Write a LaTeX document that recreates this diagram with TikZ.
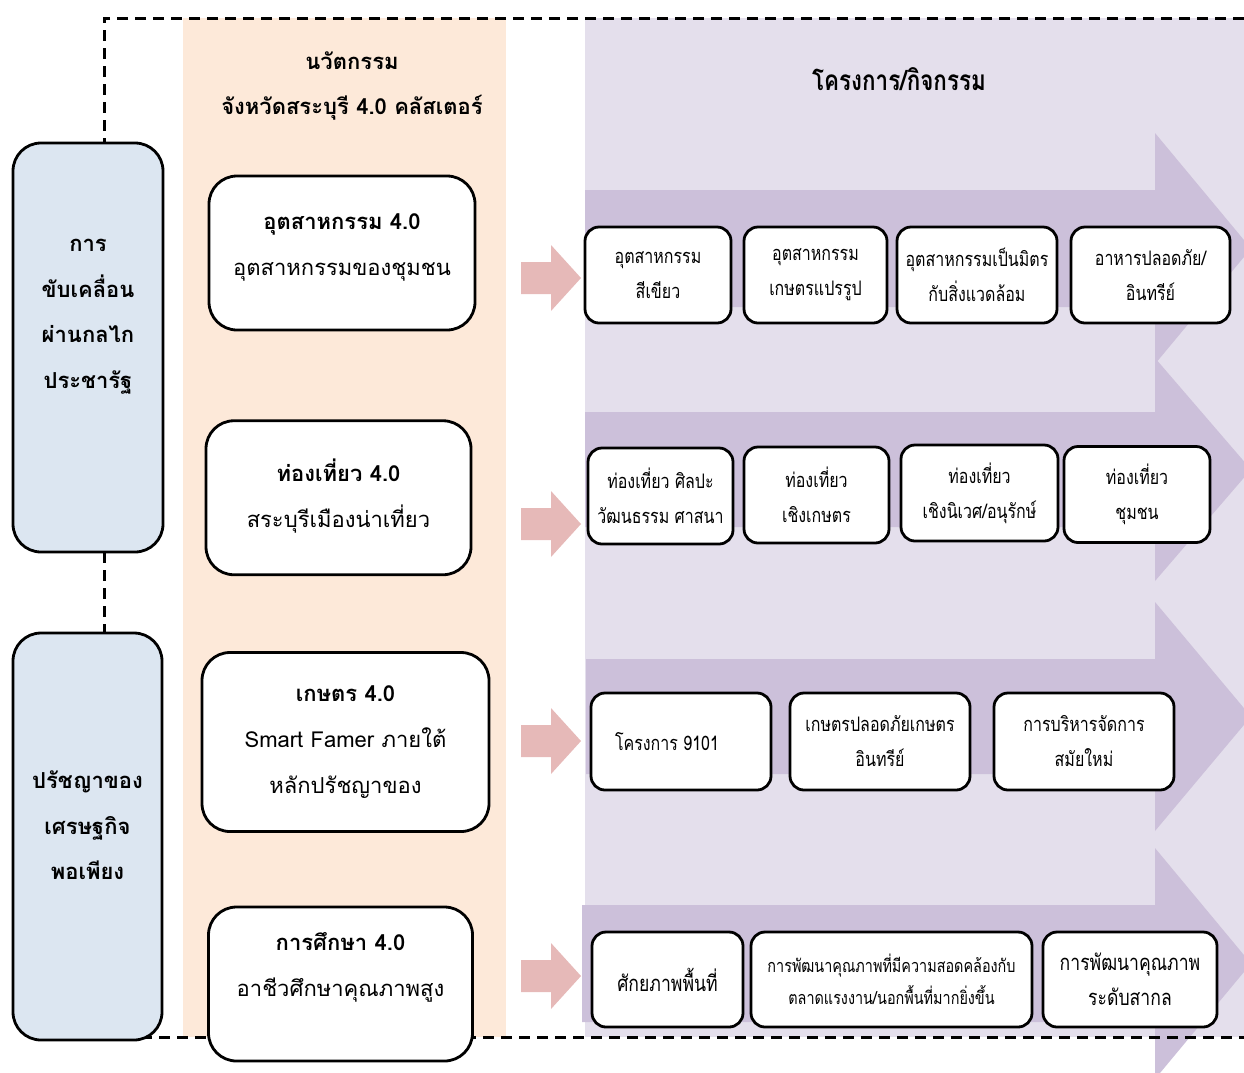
\documentclass[tikz,border=0pt]{standalone}
\usepackage{fontspec}
\setmainfont[Script=Thai]{Loma}
\newfontfamily\thaic[Script=Thai,FakeStretch=0.8]{Loma}
\definecolor{peach}{HTML}{FDE9D9}
\definecolor{bluebg}{HTML}{DCE6F1}
\definecolor{lav}{HTML}{E4DFEC}
\definecolor{arrowpur}{HTML}{CCC0DA}
\definecolor{pinkarr}{HTML}{E6B9B8}
\newcommand\bigarrow[4]{% x0, body top, body bottom, half head
  \fill[arrowpur] (#1,#2) -- (1155,#2) -- (1155,{(#2+#3)/2-#4}) -- (1251,{(#2+#3)/2}) -- (1155,{(#2+#3)/2+#4}) -- (1155,#3) -- (#1,#3) -- cycle;}
\newcommand\pinkarrow[1]{%
  \fill[pinkarr] (521,#1-16) -- (551,#1-16) -- (551,#1-33) -- (581,#1) -- (551,#1+33) -- (551,#1+16) -- (521,#1+16) -- cycle;}
\begin{document}
\begin{tikzpicture}[x=1pt,y=-1pt,
  bigbox/.style={draw, line width=2.8pt, rounded corners=28pt, fill=white, inner sep=0pt},
  bigtext/.style={align=center, inner sep=0pt, font=\fontsize{22}{46}\selectfont},
  smallbox/.style={draw, line width=2.8pt, rounded corners=14pt, fill=white, align=center, inner sep=0pt, font=\thaic\fontsize{20}{35}\selectfont},
  bluebox/.style={draw, line width=2.8pt, rounded corners=28pt, fill=bluebg, inner sep=0pt},
  bluetext/.style={align=center, inner sep=0pt, font=\bfseries\fontsize{22}{45.5}\selectfont},
  headtext/.style={align=center, inner sep=0pt, font=\bfseries\fontsize{22}{45}\selectfont},
  dashedline/.style={dash pattern=on 11pt off 7pt, line width=3pt},
]
\useasboundingbox (0,0) rectangle (1244,1072);
% backgrounds
\fill[lav] (585,18) rectangle (1244,1037);
\begin{scope}
  \clip (0,0) rectangle (1244,1072);
  \bigarrow{585}{190}{307}{115.5}
  \bigarrow{585}{412}{527}{111.5}
  \bigarrow{586}{659}{774}{114.5}
  \bigarrow{582}{905}{1022}{115.5}
\end{scope}
\fill[peach] (183,18) rectangle (506,1037);
\draw[dashedline] (1244,18) -- (104,18) -- (104,1037) -- (1244,1037);
% pink arrows
\pinkarrow{278}
\pinkarrow{524}
\pinkarrow{741}
\pinkarrow{976}
% headers
\node[headtext] (hinno) at (352,86) {นวัตกรรม\\จังหวัดสระบุรี 4.0 คลัสเตอร์};
\node[inner sep=0pt, font=\thaic\bfseries\fontsize{28}{34}\selectfont] (hproj) at (899,79) {โครงการ/กิจกรรม};
% blue boxes
\node[bluebox, minimum width=150pt, minimum height=409pt] (blue1) at (88,347.5) {};
\node[bluetext] (blue1t) at ([yshift=31pt]blue1.center) {การ\\ขับเคลื่อน\\ผ่านกลไก\\ประชารัฐ};
\node[bluebox, minimum width=149pt, minimum height=407pt] (blue2) at (87.5,836.5) {};
\node[bluetext] (blue2t) at ([yshift=11pt]blue2.center) {ปรัชญาของ\\เศรษฐกิจ\\พอเพียง};
% big boxes
\node[bigbox, minimum width=266pt, minimum height=154pt] (ind) at (342,253) {};
\node[bigtext] (indt) at ([yshift=6pt]ind.center) {\textbf{อุตสาหกรรม 4.0}\\อุตสาหกรรมของชุมชน};
\node[bigbox, minimum width=265pt, minimum height=154pt] (tour) at (338.5,497.75) {};
\node[bigtext] (tourt) at ([yshift=2pt]tour.center) {\textbf{ท่องเที่ยว 4.0}\\สระบุรีเมืองน่าเที่ยว};
\node[bigbox, minimum width=287pt, minimum height=179pt] (agri) at (345.5,742) {};
\node[bigtext] (agrit) at (agri.center) {\textbf{เกษตร 4.0}\\Smart Famer ภายใต้\\หลักปรัชญาของ};
\node[bigbox, minimum width=264pt, minimum height=154pt] (edu) at (340.5,984) {};
\node[bigtext] (edut) at ([yshift=17pt]edu.center) {\textbf{การศึกษา 4.0}\\อาชีวศึกษาคุณภาพสูง};
% row 1
\node[smallbox, minimum width=146pt, minimum height=96pt] (b11) at (658,275) {อุตสาหกรรม\\สีเขียว};
\node[smallbox, minimum width=143pt, minimum height=96pt] (b12) at (815.5,275) {อุตสาหกรรม\\เกษตรแปรรูป};
\node[smallbox, minimum width=160pt, minimum height=96pt] (b13) at (977,275) {อุตสาหกรรมเป็นมิตร\\กับสิ่งแวดล้อม};
\node[smallbox, minimum width=159pt, minimum height=96pt] (b14) at (1150.5,275) {อาหารปลอดภัย/\\อินทรีย์};
% row 2
\node[smallbox, minimum width=145pt, minimum height=96pt] (b21) at (660.5,496) {ท่องเที่ยว ศิลปะ\\วัฒนธรรม ศาสนา};
\node[smallbox, minimum width=145pt, minimum height=96pt] (b22) at (816.5,495) {ท่องเที่ยว\\เชิงเกษตร};
\node[smallbox, minimum width=157pt, minimum height=96pt] (b23) at (979.5,493) {ท่องเที่ยว\\เชิงนิเวศ/อนุรักษ์};
\node[smallbox, minimum width=146pt, minimum height=96pt] (b24) at (1137,494.5) {ท่องเที่ยว\\ชุมชน};
% row 3
\node[smallbox, minimum width=180pt, minimum height=97pt] (b31) at (681,741.5) {\hspace*{-28pt}โครงการ 9101};
\node[smallbox, minimum width=180pt, minimum height=97pt] (b32) at (880,741.5) {เกษตรปลอดภัยเกษตร\\อินทรีย์};
\node[smallbox, minimum width=180pt, minimum height=97pt] (b33) at (1084,741.5) {การบริหารจัดการ\\สมัยใหม่};
% row 4
\node[smallbox, minimum width=151pt, minimum height=95pt, font=\thaic\fontsize{22}{35}\selectfont] (b41) at (667.5,979.5) {ศักยภาพพื้นที่};
\node[smallbox, minimum width=281pt, minimum height=95pt, font=\thaic\fontsize{18}{32}\selectfont] (b42) at (891.5,979.5) {การพัฒนาคุณภาพที่มีความสอดคล้องกับ\\ตลาดแรงงาน/นอกพื้นที่มากยิ่งขึ้น};
\node[smallbox, minimum width=174pt, minimum height=95pt, font=\thaic\fontsize{22}{35}\selectfont] (b43) at (1130,979.5) {การพัฒนาคุณภาพ\\ระดับสากล};
\end{tikzpicture}
\end{document}
